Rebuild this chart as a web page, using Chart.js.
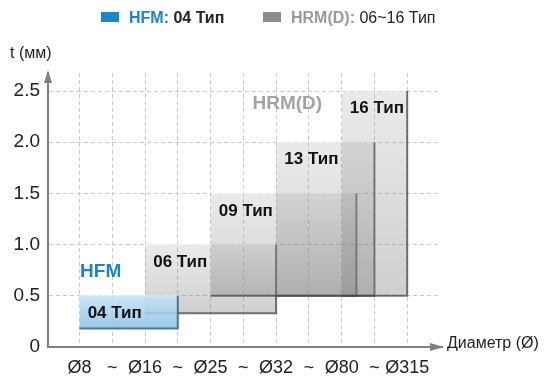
<!DOCTYPE html>
<html>
<head>
<meta charset="utf-8">
<script src="https://cdn.jsdelivr.net/npm/chart.js@4"></script>
<style>
  body { margin: 0; background: #fff; font-family: "Liberation Sans", Arial, sans-serif; }
  #wrap { position: relative; width: 547px; height: 378px; }
  .txt { position: absolute; white-space: nowrap; color: #222; }
  .legend { top: 9px; font-size: 16px; font-weight: bold; }
  .sw { display: inline-block; width: 18px; height: 10px; vertical-align: 1px; margin-right: 10px; }
</style>
</head>
<body>
<div id="wrap">
  <canvas id="chart"></canvas>
  <div class="txt legend" style="left:101px"><span class="sw" style="background:#1a85c8"></span><span style="color:#1a85c8">HFM:</span> 04 Тип</div>
  <div class="txt legend" style="left:263px"><span class="sw" style="background:#8c8c8c"></span><span style="color:#999">HRM(D):</span> <span style="font-weight:normal">06~16 Тип</span></div>
  <div class="txt" style="left:10px; top:44px; font-size:16px">t (мм)</div>
  <div class="txt" style="left:447px; top:334px; font-size:16px">Диаметр (Ø)</div>
</div>
<script>
// x positions are tick indexes on the diameter axis
const xTickLabels = ["Ø8", "~", "Ø16", "~", "Ø25", "~", "Ø32", "~", "Ø80", "~", "Ø315"];
const yTicks = [0, 0.5, 1.0, 1.5, 2.0, 2.5];

const boxNames = ["04 Тип", "06 Тип", "09 Тип", "13 Тип", "16 Тип"];
const boxFrom = [0, 2, 4, 6, 8];
const boxTo = [3, 6, 8.45, 9, 10];
const tMin = [0.18, 0.33, 0.5, 0.5, 0.5];
const tMax = [0.5, 1.0, 1.5, 2.0, 2.5];

function boxFill(i) {
  return c => {
    const chart = c.chart;
    if (!chart.chartArea) return "rgba(140,140,140,0.3)";
    const y = chart.scales.y;
    const g = chart.ctx.createLinearGradient(0, y.getPixelForValue(tMax[i]), 0, y.getPixelForValue(tMin[i]));
    if (i === 0) {
      g.addColorStop(0, "rgba(195,225,245,0.85)");
      g.addColorStop(1, "rgba(140,195,232,0.9)");
    } else {
      g.addColorStop(0, "rgba(150,150,150,0.2)");
      g.addColorStop(1, "rgba(120,120,120,0.36)");
    }
    return g;
  };
}

const datasets = [];
boxNames.forEach((n, i) => {
  const ord = i === 0 ? 0 : 20 - i * 2;
  datasets.push({
    label: n,
    data: [{ x: boxFrom[i], y: tMax[i] }, { x: boxTo[i], y: tMax[i] }],
    fill: { value: tMin[i] },
    backgroundColor: boxFill(i),
    borderColor: i === 0 ? "rgba(230,245,255,0.9)" : "rgba(245,245,245,0.9)",
    borderWidth: 1,
    pointRadius: 0,
    order: ord + 1
  });
  // shadow on bottom and right edge
  datasets.push({
    label: n + " edge",
    data: [{ x: boxFrom[i], y: tMin[i] }, { x: boxTo[i], y: tMin[i] }, { x: boxTo[i], y: tMax[i] }],
    fill: false,
    borderColor: i === 0 ? "rgba(70,95,115,0.85)" : "rgba(70,70,70,0.75)",
    borderWidth: 2,
    pointRadius: 0,
    order: ord
  });
});

const labelsPlugin = {
  id: "boxLabels",
  afterDatasetsDraw(chart) {
    const { ctx, scales: { x, y } } = chart;
    ctx.save();
    ctx.textBaseline = "middle";
    ctx.font = "bold 17px 'Liberation Sans', Arial, sans-serif";
    ctx.fillStyle = "#111";
    boxNames.forEach((n, i) => {
      ctx.fillText(n, x.getPixelForValue(boxFrom[i] + 0.25), y.getPixelForValue(tMax[i] - 0.17));
    });
    ctx.font = "bold 19px 'Liberation Sans', Arial, sans-serif";
    ctx.fillStyle = "#1a85c8";
    ctx.fillText("HFM", x.getPixelForValue(0.02), y.getPixelForValue(0.73));
    ctx.fillStyle = "#a3a3a3";
    ctx.fillText("HRM(D)", x.getPixelForValue(5.28), y.getPixelForValue(2.38));
    ctx.restore();
  },
  afterDraw(chart) {
    const { ctx, chartArea: a } = chart;
    ctx.save();
    ctx.fillStyle = "#808080";
    ctx.strokeStyle = "#808080";
    ctx.lineWidth = 2;
    ctx.beginPath();
    ctx.moveTo(a.right, a.bottom);
    ctx.lineTo(a.right + 3, a.bottom);
    ctx.stroke();
    ctx.beginPath();
    ctx.moveTo(a.right + 4, a.bottom);
    ctx.lineTo(a.right - 10, a.bottom - 4);
    ctx.lineTo(a.right - 10, a.bottom + 4);
    ctx.closePath();
    ctx.fill();
    ctx.beginPath();
    ctx.moveTo(a.left, a.top - 3);
    ctx.lineTo(a.left - 4, a.top + 10);
    ctx.lineTo(a.left + 4, a.top + 10);
    ctx.closePath();
    ctx.fill();
    ctx.restore();
  }
};

new Chart(document.getElementById("chart"), {
  type: "line",
  data: { datasets },
  options: {
    responsive: true,
    maintainAspectRatio: false,
    animation: false,
    layout: { padding: { top: 73, right: 107, left: 0, bottom: 0 } },
    plugins: { legend: { display: false }, tooltip: { enabled: false } },
    scales: {
      x: {
        type: "linear",
        min: -0.96,
        max: 11,
        afterBuildTicks: s => { s.ticks = xTickLabels.map((_, i) => ({ value: i })); },
        afterFit: s => { s.height = 31; },
        ticks: {
          autoSkip: false, maxRotation: 0, padding: 10,
          color: "#222",
          font: { size: 18, family: "'Liberation Sans', Arial, sans-serif" },
          callback: (v, i) => xTickLabels[i]
        },
        grid: { color: "#c8c8c8", lineWidth: 1, drawTicks: false },
        border: { display: true, color: "#808080", width: 2, dash: [4, 3] }
      },
      y: {
        type: "linear",
        min: 0,
        max: 2.676,
        afterBuildTicks: s => { s.ticks = yTicks.map(v => ({ value: v })); },
        afterFit: s => { s.width = 48; },
        ticks: {
          padding: 8,
          color: "#222",
          font: { size: 19, family: "'Liberation Sans', Arial, sans-serif" },
          callback: v => v === 0 ? "0" : v.toFixed(1)
        },
        grid: { color: "#c8c8c8", lineWidth: 1, drawTicks: false },
        border: { display: true, color: "#808080", width: 2, dash: [4, 3] }
      }
    }
  },
  plugins: [labelsPlugin]
});
</script>
</body>
</html>
